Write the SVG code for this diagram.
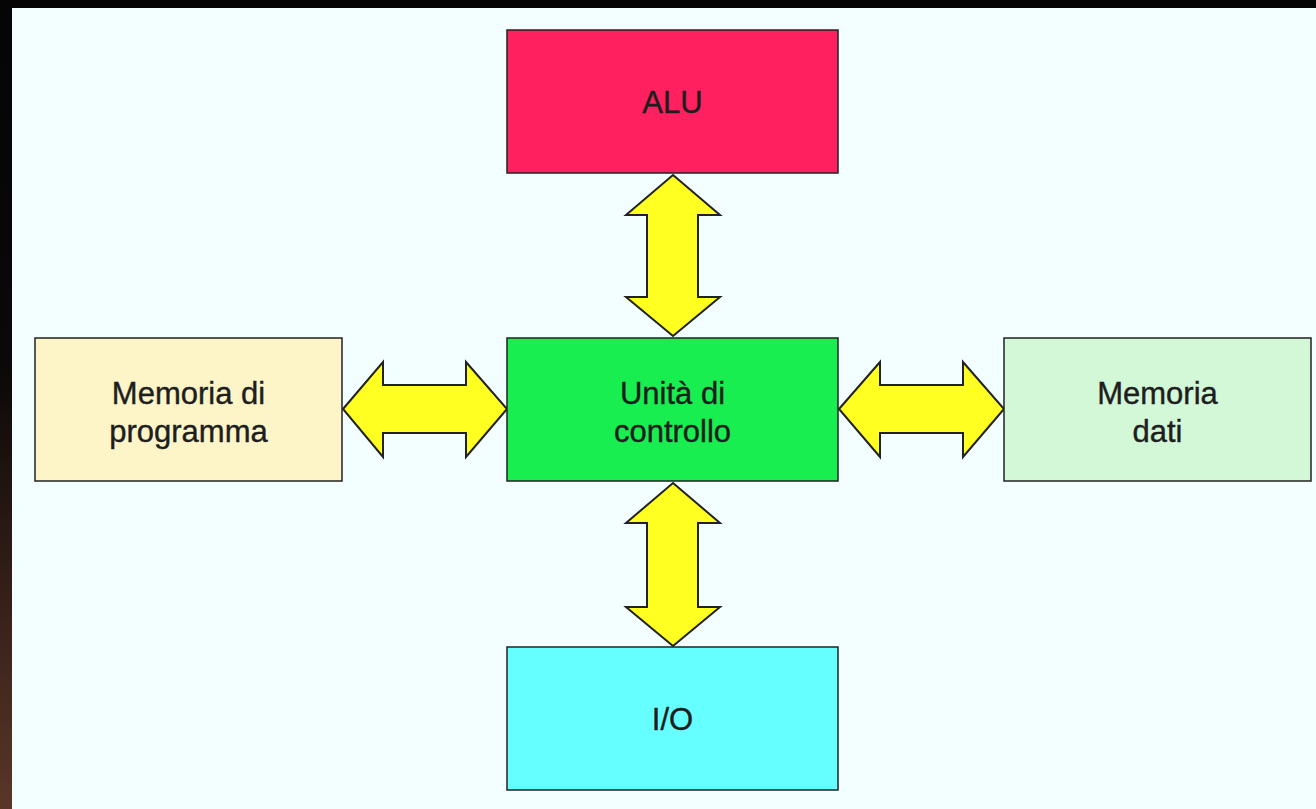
<svg xmlns="http://www.w3.org/2000/svg" width="1316" height="809" viewBox="0 0 1316 809">
<defs>
<linearGradient id="edge" x1="0" y1="0" x2="0" y2="1">
<stop offset="0" stop-color="#050505"/>
<stop offset="0.45" stop-color="#0a0808"/>
<stop offset="1" stop-color="#5a3628"/>
</linearGradient>
<style>
.box{stroke:#222;stroke-width:1.5}
.arrow{fill:#ffff22;stroke:#222;stroke-width:2;stroke-linejoin:miter}
.t{font-family:"Liberation Sans",Arial,sans-serif;font-size:31px;fill:#1e1e1e;stroke:#1e1e1e;stroke-width:0.4;text-anchor:middle}
</style>
</defs>
<rect x="0" y="0" width="1316" height="809" fill="#f2feff"/>
<rect x="0" y="0" width="1316" height="8" fill="#050505"/>
<rect x="0" y="0" width="12" height="809" fill="url(#edge)"/>

<g id="connectors">
<polygon class="arrow" points="673,175 720,215 698,215 698,297 720,297 673,336 626,297 647,297 647,215 626,215"/>
<polygon class="arrow" points="673,483 720,523 698,523 698,607 720,607 673,646 626,607 647,607 647,523 626,523"/>
<polygon class="arrow" points="343,409 383,362 383,385 466,385 466,362 507,409 466,457 466,433 383,433 383,457"/>
<polygon class="arrow" points="839,409 880,362 880,385 963,385 963,362 1004,409 963,457 963,433 880,433 880,457"/>
</g>

<g id="alu">
<rect class="box" x="507" y="30" width="331" height="143" fill="#ff2060"/>
<text class="t" x="672.5" y="113">ALU</text>
</g>
<g id="unita">
<rect class="box" x="507" y="338" width="331" height="143" fill="#18ee50"/>
<text class="t" x="672.5" y="404">Unità di</text>
<text class="t" x="672.5" y="442">controllo</text>
</g>
<g id="memoria-programma">
<rect class="box" x="35" y="338" width="307" height="143" fill="#fdf5c8"/>
<text class="t" x="188.5" y="404">Memoria di</text>
<text class="t" x="188.5" y="442">programma</text>
</g>
<g id="memoria-dati">
<rect class="box" x="1004" y="338" width="307" height="143" fill="#d2f8d8"/>
<text class="t" x="1157.5" y="404">Memoria</text>
<text class="t" x="1157.5" y="442">dati</text>
</g>
<g id="io">
<rect class="box" x="507" y="647" width="331" height="143" fill="#66ffff"/>
<text class="t" x="672.5" y="730">I/O</text>
</g>
</svg>
